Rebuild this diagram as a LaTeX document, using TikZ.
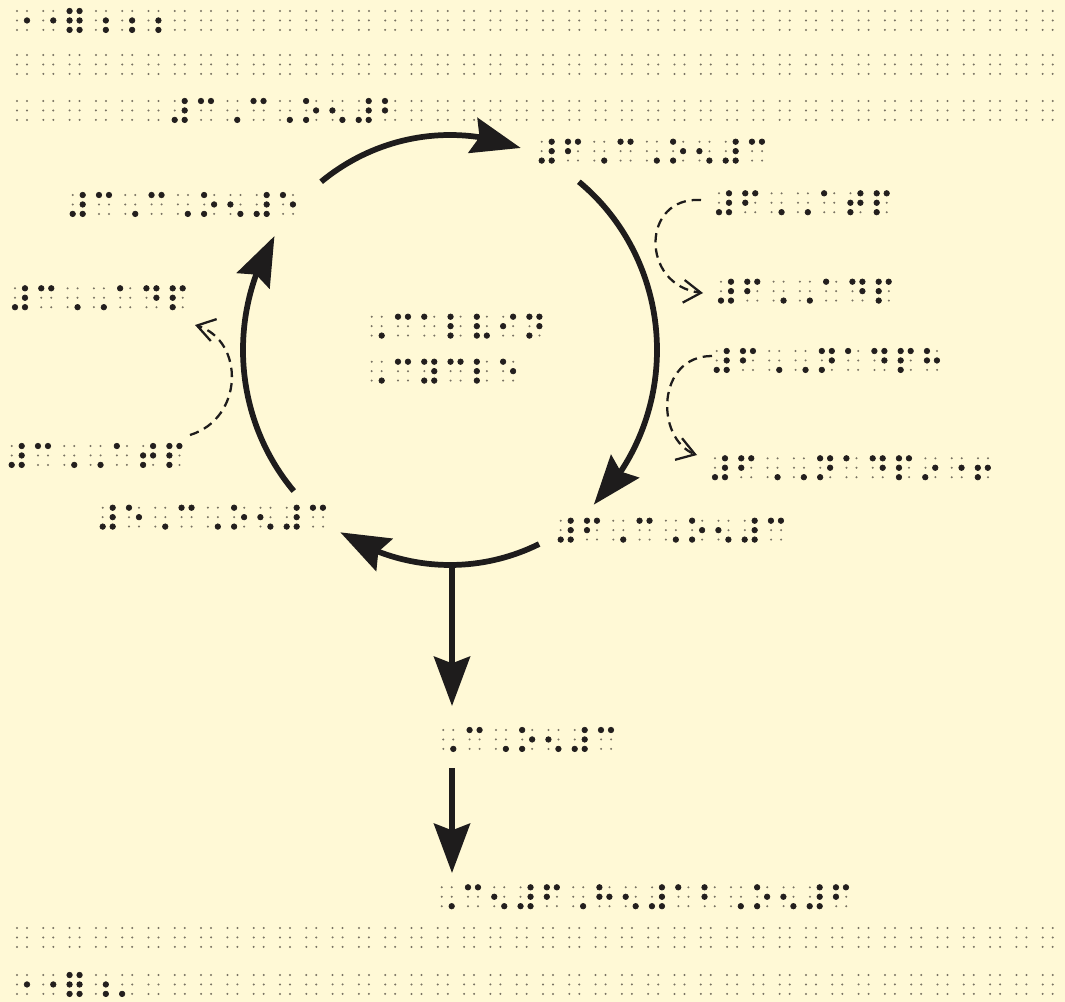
\documentclass[tikz,border=0pt]{standalone}
\usepackage{fontspec}
\usetikzlibrary{arrows.meta,bending}
\newfontfamily\brlfont[FakeBold=2]{DejaVu Serif}
\definecolor{bgc}{RGB}{255,249,214}
\definecolor{dotc}{RGB}{35,31,30}
\definecolor{guidec}{RGB}{120,114,98}
\definecolor{arrc}{RGB}{30,28,28}
\makeatletter
\newdimen\brlS \newdimen\brlF \newdimen\brlXa \newdimen\brlYa \newdimen\brlSy \newdimen\brlD
\newdimen\brlP \brlP=19.725pt
\newdimen\brlR \brlR=0.85pt
\def\brl@g#1{\XeTeXcharglyph"#1 }
\begingroup
\brlfont\fontsize{10pt}{12pt}\selectfont
\global\brlS=\dimexpr\XeTeXglyphbounds1 \brl@g{2808}-\XeTeXglyphbounds1 \brl@g{2801}\relax
\endgroup
\ifdim\brlS<0.1pt \brlS=2.5pt\fi
\brlF=\dimexpr 10pt*491520/\brlS\relax
\begingroup
\brlfont\fontsize{\the\brlF}{\the\brlF}\selectfont
\global\brlS=\dimexpr\XeTeXglyphbounds1 \brl@g{2808}-\XeTeXglyphbounds1 \brl@g{2801}\relax
\global\brlSy=\dimexpr\XeTeXglyphbounds2 \brl@g{2801}-\XeTeXglyphbounds2 \brl@g{2802}\relax
\global\brlD=\dimexpr\fontcharwd\font"2801 -\XeTeXglyphbounds1 \brl@g{2801}-\XeTeXglyphbounds3 \brl@g{2801}\relax
\global\brlXa=\dimexpr\XeTeXglyphbounds1 \brl@g{2801}+\brlD/2\relax
\global\brlYa=\dimexpr\XeTeXglyphbounds2 \brl@g{2801}-\brlD/2\relax
\endgroup
\def\brlsize{\brlfont\fontsize{\the\brlF}{\the\brlF}\selectfont}
\def\brl@set#1{\ifx\relax#1\else\hbox to\brlP{#1\hss}\expandafter\brl@set\fi}
\newcommand\brlgrid[3]{%
  \foreach \i in {1,...,#3}{\foreach \j in {0,1}{\foreach \k in {0,1,2}{%
    \fill[guide] ([shift={({(\i-1)*\brlP+\j*\brlS},{-\k*\brlSy})}]#1,#2) circle[radius=\brlR];}}}}
\newcommand\brlnode[5]{%
  \brlgrid{#2}{#3}{#5}%
  \node[brl] (#1) at ([shift={(-\brlXa,-\brlYa)}]#2,#3) {\brl@set#4\relax};}
\makeatother
\tikzset{
  brl/.style={inner sep=0pt, outer sep=0pt, anchor=base west, text=dotc, font=\brlsize},
  guide/.style={fill=guidec},
  cyc/.style={line width=4.3pt, draw=arrc, -{Stealth[length=37pt,width=27pt,inset=5pt,flex]}},
  dsh/.style={line width=1.7pt, draw=arrc, dash pattern=on 7pt off 4.5pt, -{Straight Barb[length=13pt,width=17pt]}},
}
\begin{document}
\begin{tikzpicture}[x=0.75pt,y=-0.75pt]
\fill[bgc] (0,0) rectangle (1065,1002);
\useasboundingbox (0,0) rectangle (1065,1002);
% page lines
\brlnode{t1}{17}{11}{⠐⠐⠿⠰⠰⠰}{40}
\brlgrid{17}{55}{40}
\brlnode{t3}{17}{101}{⠀⠀⠀⠀⠀⠀⠼⠉⠠⠉⠠⠕⠢⠼⠃}{40}
\brlgrid{17}{928}{40}
\brlnode{b2}{17}{975}{⠐⠐⠿⠰⠄}{40}
% labels
\brlnode{A}{541.7}{141.7}{⠼⠋⠠⠉⠠⠕⠢⠼⠉}{9}
\brlnode{B}{72.7}{195}{⠼⠉⠠⠉⠠⠕⠢⠼⠑}{9}
\brlnode{C}{15}{288.3}{⠼⠉⠠⠠⠁⠙⠏}{7}
\brlnode{D}{11.7}{446}{⠼⠉⠠⠠⠁⠞⠏}{7}
\brlnode{E}{102.7}{507.7}{⠼⠑⠠⠉⠠⠕⠢⠼⠉}{9}
\brlnode{F}{560.7}{520.7}{⠼⠋⠠⠉⠠⠕⠢⠼⠉}{9}
\brlnode{G}{719}{193.3}{⠼⠋⠠⠠⠁⠞⠏}{7}
\brlnode{H}{721}{281.7}{⠼⠋⠠⠠⠁⠙⠏}{7}
\brlnode{I}{716.7}{351}{⠼⠋⠠⠠⠝⠁⠙⠏⠓}{9}
\brlnode{J}{715}{458.3}{⠼⠋⠠⠠⠝⠁⠙⠏⠔⠐⠖}{11}
\brlnode{K1}{371.7}{316.7}{⠠⠉⠁⠇⠧⠊⠝}{7}
\brlnode{K2}{371.7}{361.7}{⠠⠉⠽⠉⠇⠑}{6}
\brlnode{L}{443.3}{730}{⠠⠉⠠⠕⠢⠼⠉}{7}
\brlnode{M}{441.7}{887.3}{⠠⠉⠢⠼⠋⠠⠓⠢⠼⠁⠃⠠⠕⠢⠼⠋}{16}
% cycle
\coordinate (c) at (450,350);
\draw[cyc] (c) ++(-128.5:207 and 215) arc[start angle=-128.5,end angle=-70,x radius=207,y radius=215];
\draw[cyc] (c) ++(-51.5:207 and 215) arc[start angle=-51.5,end angle=46,x radius=207,y radius=215];
\draw[cyc] (c) ++(64.5:207 and 215) arc[start angle=64.5,end angle=122,x radius=207,y radius=215];
\draw[cyc] (c) ++(139:207 and 215) arc[start angle=139,end angle=212,x radius=207,y radius=215];
\coordinate (bt) at (452,565);
\coordinate (l1) at (452,706);
\coordinate (l2) at (452,768);
\coordinate (m1) at (452,873);
\draw[cyc] (bt) -- (l1);
\draw[cyc] (l2) -- (m1);
% dashed
\draw[dsh] (701,200) .. controls (640,196) and (640,288) .. (703,293);
\draw[dsh] (712,356) .. controls (655,356) and (655,442) .. (697,455);
\draw[dsh] (190,435) .. controls (245,418) and (245,338) .. (195,325);
\end{tikzpicture}
\end{document}
